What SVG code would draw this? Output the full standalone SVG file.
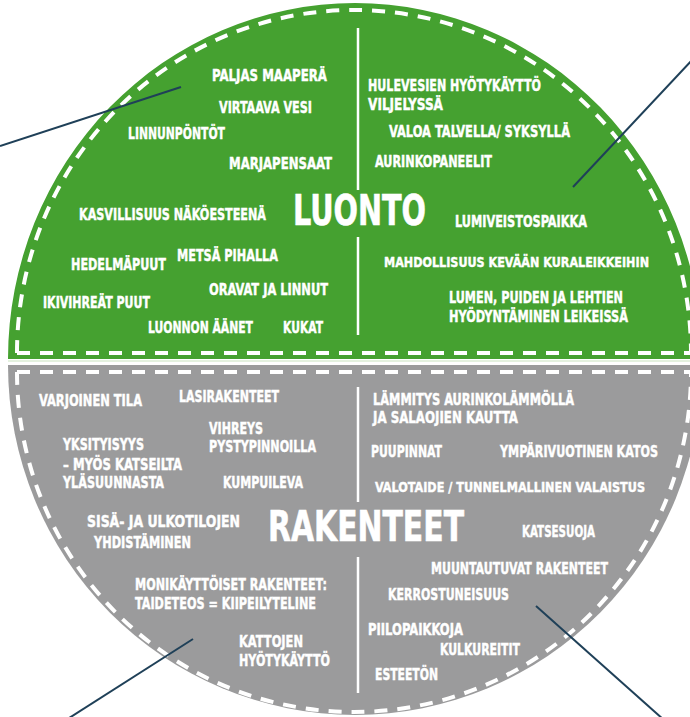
<svg xmlns="http://www.w3.org/2000/svg" width="690" height="717" viewBox="0 0 690 717">
<style>
.t{font-family:"Liberation Sans Narrow","DejaVu Sans Condensed","Liberation Sans",sans-serif;font-weight:bold;font-size:15px;fill:#fff;stroke:#fff;stroke-width:0.4}
.s{font-size:13.8px}
.big{font-family:"Liberation Sans Narrow","DejaVu Sans Condensed","Liberation Sans",sans-serif;font-weight:bold;font-size:42px;fill:#fff;stroke:#fff;stroke-width:0.6}
.dash{fill:none;stroke:#fff;stroke-width:4;stroke-dasharray:13 10}
.vl{stroke:#fff;stroke-width:2.5}
.con{stroke:#1f4058;stroke-width:2;fill:none}
</style>
<rect width="690" height="717" fill="#fff"/>
<g id="luonto">
<path d="M8,359 A347,356 0 0 1 702,359 Z" fill="#45a130"/>
<path class="dash" d="M17,353 A337,343 0 0 1 691,353"/>
<path class="dash" d="M17,353 H690"/>
<line class="vl" x1="358" y1="28" x2="358" y2="190"/>
<line class="vl" x1="358" y1="237" x2="358" y2="335"/>
<text class="big" x="293" y="225" textLength="133" lengthAdjust="spacingAndGlyphs">LUONTO</text>
<text class="t" x="212" y="81" textLength="115" lengthAdjust="spacingAndGlyphs">PALJAS MAAPERÄ</text>
<text class="t" x="219" y="113" textLength="93" lengthAdjust="spacingAndGlyphs">VIRTAAVA VESI</text>
<text class="t" x="128" y="139" textLength="97" lengthAdjust="spacingAndGlyphs">LINNUNPÖNTÖT</text>
<text class="t" x="229" y="169" textLength="103" lengthAdjust="spacingAndGlyphs">MARJAPENSAAT</text>
<text class="t" x="368" y="91" textLength="173" lengthAdjust="spacingAndGlyphs">HULEVESIEN HYÖTYKÄYTTÖ</text>
<text class="t" x="368" y="110" textLength="75" lengthAdjust="spacingAndGlyphs">VILJELYSSÄ</text>
<text class="t" x="389" y="137" textLength="181" lengthAdjust="spacingAndGlyphs">VALOA TALVELLA/ SYKSYLLÄ</text>
<text class="t" x="375" y="167" textLength="117" lengthAdjust="spacingAndGlyphs">AURINKOPANEELIT</text>
<text class="t" x="79" y="220" textLength="187" lengthAdjust="spacingAndGlyphs">KASVILLISUUS NÄKÖESTEENÄ</text>
<text class="t" x="71" y="270" textLength="95" lengthAdjust="spacingAndGlyphs">HEDELMÄPUUT</text>
<text class="t" x="177" y="261" textLength="101" lengthAdjust="spacingAndGlyphs">METSÄ PIHALLA</text>
<text class="t" x="209" y="295" textLength="119" lengthAdjust="spacingAndGlyphs">ORAVAT JA LINNUT</text>
<text class="t" x="43" y="308" textLength="107" lengthAdjust="spacingAndGlyphs">IKIVIHREÄT PUUT</text>
<text class="t" x="148" y="333" textLength="105" lengthAdjust="spacingAndGlyphs">LUONNON ÄÄNET</text>
<text class="t" x="283" y="333" textLength="40" lengthAdjust="spacingAndGlyphs">KUKAT</text>
<text class="t" x="455" y="227" textLength="132" lengthAdjust="spacingAndGlyphs">LUMIVEISTOSPAIKKA</text>
<text class="t s" x="384" y="267" textLength="265" lengthAdjust="spacingAndGlyphs">MAHDOLLISUUS KEVÄÄN KURALEIKKEIHIN</text>
<text class="t" x="449" y="303" textLength="174" lengthAdjust="spacingAndGlyphs">LUMEN, PUIDEN JA LEHTIEN</text>
<text class="t" x="449" y="322" textLength="179" lengthAdjust="spacingAndGlyphs">HYÖDYNTÄMINEN LEIKEISSÄ</text>
</g>
<line x1="8" y1="361" x2="690" y2="361" stroke="#e4f1df" stroke-width="2"/>
<g id="rakenteet">
<path d="M8,365 A347,350 0 0 0 702,365 Z" fill="#9b9b9c"/>
<path class="dash" d="M17,372 A337,340 0 0 0 691,372"/>
<path class="dash" d="M17,372 H690"/>
<line class="vl" x1="358" y1="387" x2="358" y2="502"/>
<line class="vl" x1="358" y1="557" x2="358" y2="693"/>
<text class="big" x="268" y="541" textLength="196" lengthAdjust="spacingAndGlyphs">RAKENTEET</text>
<text class="t" x="39" y="406" textLength="103" lengthAdjust="spacingAndGlyphs">VARJOINEN TILA</text>
<text class="t" x="179" y="402" textLength="100" lengthAdjust="spacingAndGlyphs">LASIRAKENTEET</text>
<text class="t" x="209" y="434" textLength="54" lengthAdjust="spacingAndGlyphs">VIHREYS</text>
<text class="t" x="209" y="452" textLength="107" lengthAdjust="spacingAndGlyphs">PYSTYPINNOILLA</text>
<text class="t" x="63" y="450" textLength="81" lengthAdjust="spacingAndGlyphs">YKSITYISYYS</text>
<text class="t" x="63" y="470" textLength="119" lengthAdjust="spacingAndGlyphs">– MYÖS KATSEILTA</text>
<text class="t" x="63" y="488" textLength="101" lengthAdjust="spacingAndGlyphs">YLÄSUUNNASTA</text>
<text class="t" x="223" y="488" textLength="80" lengthAdjust="spacingAndGlyphs">KUMPUILEVA</text>
<text class="t" x="87" y="527" textLength="153" lengthAdjust="spacingAndGlyphs">SISÄ- JA ULKOTILOJEN</text>
<text class="t" x="94" y="548" textLength="97" lengthAdjust="spacingAndGlyphs">YHDISTÄMINEN</text>
<text class="t" x="135" y="590" textLength="192" lengthAdjust="spacingAndGlyphs">MONIKÄYTTÖISET RAKENTEET:</text>
<text class="t" x="135" y="609" textLength="181" lengthAdjust="spacingAndGlyphs">TAIDETEOS = KIIPEILYTELINE</text>
<text class="t" x="239" y="647" textLength="64" lengthAdjust="spacingAndGlyphs">KATTOJEN</text>
<text class="t" x="239" y="666" textLength="91" lengthAdjust="spacingAndGlyphs">HYÖTYKÄYTTÖ</text>
<text class="t" x="373" y="405" textLength="201" lengthAdjust="spacingAndGlyphs">LÄMMITYS AURINKOLÄMMÖLLÄ</text>
<text class="t" x="373" y="423" textLength="145" lengthAdjust="spacingAndGlyphs">JA SALAOJIEN KAUTTA</text>
<text class="t" x="371" y="457" textLength="71" lengthAdjust="spacingAndGlyphs">PUUPINNAT</text>
<text class="t" x="500" y="457" textLength="158" lengthAdjust="spacingAndGlyphs">YMPÄRIVUOTINEN KATOS</text>
<text class="t s" x="375" y="492" textLength="270" lengthAdjust="spacingAndGlyphs">VALOTAIDE / TUNNELMALLINEN VALAISTUS</text>
<text class="t" x="522" y="537" textLength="73" lengthAdjust="spacingAndGlyphs">KATSESUOJA</text>
<text class="t" x="431" y="574" textLength="177" lengthAdjust="spacingAndGlyphs">MUUNTAUTUVAT RAKENTEET</text>
<text class="t" x="388" y="600" textLength="121" lengthAdjust="spacingAndGlyphs">KERROSTUNEISUUS</text>
<text class="t" x="368" y="635" textLength="95" lengthAdjust="spacingAndGlyphs">PIILOPAIKKOJA</text>
<text class="t" x="440" y="655" textLength="80" lengthAdjust="spacingAndGlyphs">KULKUREITIT</text>
<text class="t" x="375" y="680" textLength="63" lengthAdjust="spacingAndGlyphs">ESTEETÖN</text>
</g>
<g id="connectors">
<line class="con" x1="0" y1="146" x2="181" y2="87"/>
<line class="con" x1="573" y1="187" x2="695" y2="57"/>
<line class="con" x1="193" y1="639" x2="66" y2="720"/>
<line class="con" x1="536" y1="606" x2="664" y2="720"/>
</g>
</svg>
